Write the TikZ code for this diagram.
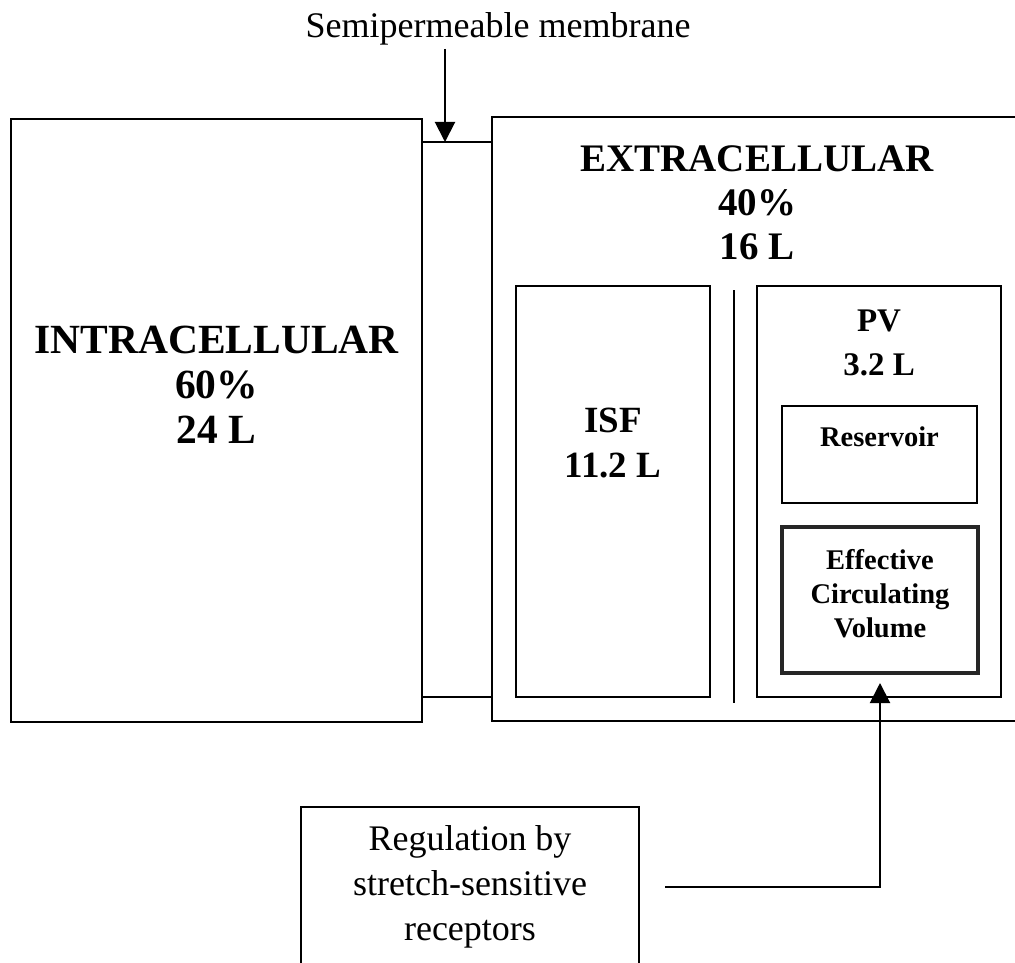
\documentclass[tikz,border=0pt]{standalone}
\usepackage{fontspec}
\setmainfont{Liberation Serif}
\usetikzlibrary{arrows.meta}
\begin{document}
\begin{tikzpicture}[x=1pt,y=-1pt,
  box/.style={draw, line width=2pt, inner sep=0pt},
  thickbox/.style={draw=black!85, line width=4.5pt, inner sep=0pt},
  big/.style={align=center, font=\bfseries\fontsize{39}{44}\selectfont},
  bigger/.style={align=center, font=\bfseries\fontsize{41.5}{45}\selectfont},
  isfstyle/.style={align=center, font=\bfseries\fontsize{37}{45}\selectfont},
  mid/.style={align=center, font=\bfseries\fontsize{33}{44}\selectfont},
  small/.style={align=center, font=\bfseries\fontsize{28.5}{34}\selectfont},
  plain/.style={align=center, font=\fontsize{36}{45}\selectfont},
  conn/.style={line width=2pt},
  tip/.style={-{Triangle[length=20pt,width=20pt]}}
]
\clip (0,0) rectangle (1015,963);
\fill[white] (0,0) rectangle (1015,963);

% compartments
\node[box, minimum width=411, minimum height=603] (intra) at (216.5,420.5) {};
\node[box, minimum width=540, minimum height=604] (extra) at (762,419) {};
\node[box, minimum width=194, minimum height=411] (isf) at (613,491.5) {};
\node[box, minimum width=244, minimum height=411] (pv) at (879,491.5) {};
\node[box, minimum width=195, minimum height=97] (res) at (879.5,454.5) {};
\node[thickbox, minimum width=196, minimum height=146] (eff) at (880,600) {};

% divider between ISF and PV
\coordinate (d1) at (734,290);
\coordinate (d2) at (734,703);
\draw[conn] (d1) -- (d2);

% membrane lines
\coordinate (m1) at (0,142);
\coordinate (m2) at (0,697);
\draw[conn] (intra.east |- m1) -- (extra.west |- m1);
\draw[conn] (intra.east |- m2) -- (extra.west |- m2);

% labels
\node[bigger] (intratxt) at (216.5,385) {INTRACELLULAR\\60\%\\24 L};
\node[big] (extratxt) at (757,203) {EXTRACELLULAR\\40\%\\16 L};
\node[isfstyle] (isftxt) at (613,443) {ISF\\11.2 L};
\node[mid] (pvtxt) at (879,343) {PV\\3.2 L};
\node[small] (restxt) at (879.5,437) {Reservoir};
\node[small] (efftxt) at (880,594) {Effective\\Circulating\\Volume};

% semipermeable membrane arrow
\node[plain] (semi) at (498,29) {Semipermeable membrane};
\coordinate (mtop) at (445,142);
\draw[conn,tip] (semi.south -| mtop) -- (mtop);

% regulation box
\node[box, minimum width=338, minimum height=220, anchor=north] (reg) at (470,806) {};
\node[plain] (regtxt) at (470,887) {Regulation by\\stretch-sensitive\\receptors};

\coordinate (rstart) at (665,887);
\coordinate (atip) at (880,683);
\draw[conn,tip] (rstart) -- (rstart -| atip) -- (atip);
\end{tikzpicture}
\end{document}
